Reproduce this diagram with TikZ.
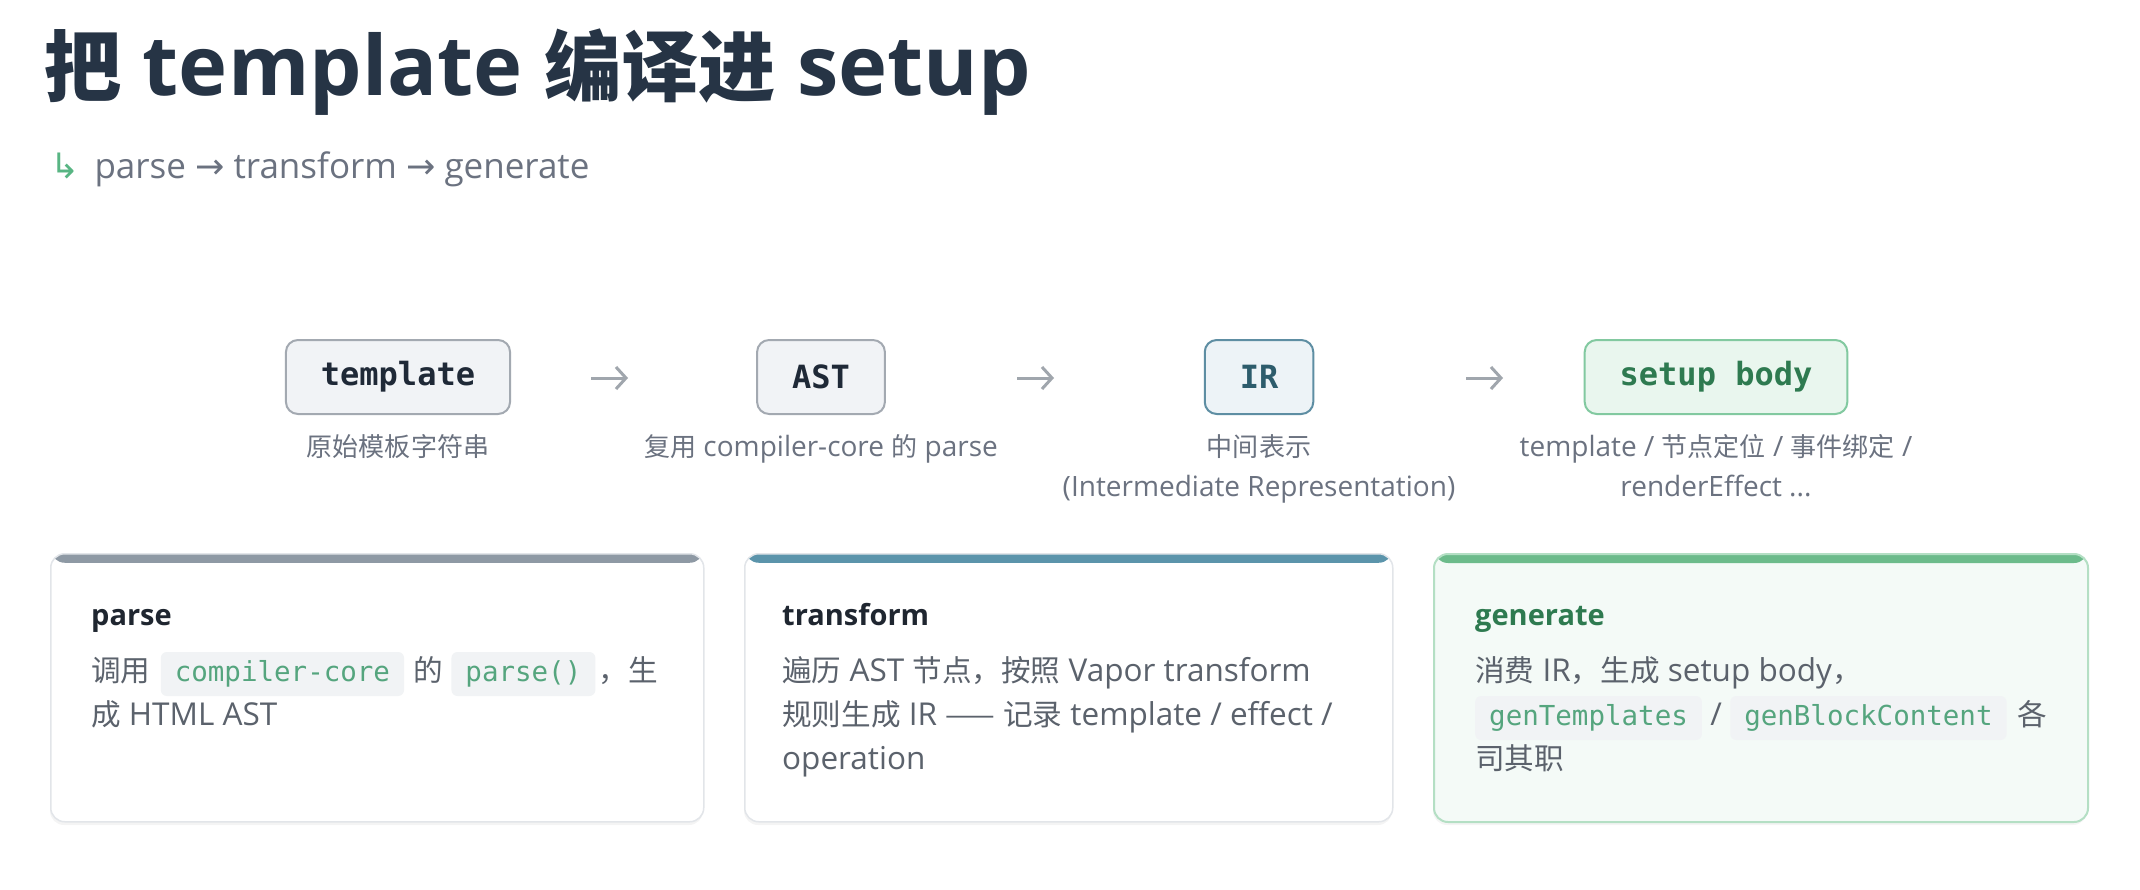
\documentclass[tikz,border=0pt]{standalone}
\usepackage{fontspec}
\setmainfont{Open Sans}
\newfontfamily\cjk[Scale=0.93]{Noto Sans CJK SC}
\newfontfamily\cjkb[Scale=0.94]{Noto Sans CJK SC}
\newfontfamily\monof{DejaVu Sans Mono}
\newfontfamily\symf{DejaVu Sans}
\usetikzlibrary{arrows.meta}
\definecolor{titlecol}{HTML}{263445}
\definecolor{subgray}{HTML}{6B7280}
\definecolor{arrowgreen}{HTML}{58B583}
\definecolor{arrowgray}{HTML}{A0A6AD}
\definecolor{boxfill}{HTML}{F1F3F6}
\definecolor{boxdraw}{HTML}{A3A9B1}
\definecolor{boxtext}{HTML}{1F2937}
\definecolor{irfill}{HTML}{EDF3F7}
\definecolor{irdraw}{HTML}{5E8EA3}
\definecolor{irtext}{HTML}{2D5C6C}
\definecolor{sufill}{HTML}{E9F6EE}
\definecolor{sudraw}{HTML}{82C9A0}
\definecolor{sutext}{HTML}{2E7A50}
\definecolor{cardborder}{HTML}{E2E5E9}
\definecolor{barone}{HTML}{8E99A4}
\definecolor{bartwo}{HTML}{5B94AB}
\definecolor{barthree}{HTML}{6CBB8B}
\definecolor{cardthreefill}{HTML}{F4FAF7}
\definecolor{cardthreeborder}{HTML}{B4DFC4}
\definecolor{ctitlecol}{HTML}{1F2630}
\definecolor{bodygray}{HTML}{5B626C}
\definecolor{codegreen}{HTML}{55A57E}
\definecolor{codebg}{HTML}{F1F3F5}
\begin{document}
\begin{tikzpicture}[x=1pt,y=-1pt,
  titlest/.style={font=\fontsize{83}{90}\selectfont\bfseries, text=titlecol, inner sep=0, anchor=base west},
  subst/.style={font=\fontsize{35}{40}\selectfont, text=subgray, inner sep=0, anchor=base west},
  boxbase/.style={rounded corners=12, line width=2, minimum height=74, inner xsep=35, inner ysep=0,
    font=\monof\bfseries\fontsize{32}{36}\selectfont},
  boxgray/.style={boxbase, fill=boxfill, draw=boxdraw, text=boxtext},
  boxir/.style={boxbase, fill=irfill, draw=irdraw, text=irtext},
  boxsetup/.style={boxbase, fill=sufill, draw=sudraw, text=sutext},
  flowarr/.style={draw=arrowgray, line width=3, -{Straight Barb[length=10pt,width=22pt,line width=3pt]}},
  capst/.style={font=\fontsize{28}{34}\selectfont, text=subgray, inner sep=0, anchor=base},
  cardbase/.style={rounded corners=14, line width=1.5, minimum width=#1, minimum height=268, anchor=north west, inner sep=0},
  shadowst/.style={rounded corners=14, fill=black, opacity=0.045},
  ctitle/.style={font=\fontsize{29}{34}\selectfont\bfseries, text=ctitlecol, inner sep=0, anchor=base west},
  body/.style={font=\fontsize{31.5}{36}\selectfont, text=bodygray, inner sep=0, anchor=base west},
  code/.style={font=\monof\fontsize{27.5}{32}\selectfont, text=codegreen, fill=codebg, rounded corners=6,
    inner xsep=14, inner ysep=9, text height=20, text depth=6, anchor=base west},
]
\useasboundingbox (0,0) rectangle (2140,890);
\fill[white] (0,0) rectangle (2140,890);

% title
\node[titlest] (title) at (44,96) {{\cjk 把} template {\cjk 编译进} setup};
\node[subst] (sub) at (50,179) {{\color{arrowgreen}\symf ↳}\hspace{15pt}parse {\symf →} transform {\symf →} generate};

% flow boxes
\node[boxgray] (tpl) at (398,377) {template};
\node[boxgray] (ast) at (821,377) {AST};
\node[boxir] (ir) at (1259,377) {IR};
\node[boxsetup] (su) at (1716,377) {setup body};

\coordinate (a1s) at (591,378); \coordinate (a1e) at (628,378);
\coordinate (a2s) at (1017,378); \coordinate (a2e) at (1054,378);
\coordinate (a3s) at (1466,378); \coordinate (a3e) at (1503,378);
\draw[flowarr] (a1s) -- (a1e);
\draw[flowarr] (a2s) -- (a2e);
\draw[flowarr] (a3s) -- (a3e);

% captions
\node[capst] (capTpl) at (398,456) {{\cjk 原始模板字符串}};
\node[capst] (capAst) at (821,456) {{\cjk 复用} compiler-core {\cjk 的} parse};
\node[capst] (capIrA) at (1259,456) {{\cjk 中间表示}};
\node[capst] (capIrB) at (1259,496) {(Intermediate Representation)};
\node[capst] (capSuA) at (1716,456) {template / {\cjk 节点定位} / {\cjk 事件绑定} /};
\node[capst] (capSuB) at (1716,496) {renderEffect ...};

% cards
\fill[shadowst] (50,556) rectangle (703,825);
\fill[shadowst] (744,556) rectangle (1392,825);
\fill[shadowst] (1433,556) rectangle (2087,825);
\node[cardbase=653, fill=white, draw=cardborder,
  path picture={\fill[barone] (path picture bounding box.north west) rectangle ([yshift=-9pt]path picture bounding box.north east);}]
  (card1) at (50,553) {};
\node[cardbase=648, fill=white, draw=cardborder,
  path picture={\fill[bartwo] (path picture bounding box.north west) rectangle ([yshift=-9pt]path picture bounding box.north east);}]
  (card2) at (744,553) {};
\node[cardbase=654, fill=cardthreefill, draw=cardthreeborder, line width=2,
  path picture={\fill[barthree] (path picture bounding box.north west) rectangle ([yshift=-9pt]path picture bounding box.north east);}]
  (card3) at (1433,553) {};

% card 1
\node[ctitle] (c1t) at (91,625) {parse};
\node[body] (c1a) at (91,681) {{\cjkb 调用}};
\node[code] (c1b) at ([xshift=10pt]c1a.base east) {compiler-core};
\node[body] (c1c) at ([xshift=9pt]c1b.base east) {{\cjkb 的}};
\node[code] (c1d) at ([xshift=8pt]c1c.base east) {parse()};
\node[body] (c1e) at ([xshift=3pt]c1d.base east) {{\cjkb ，生}};
\node[body] (c1f) at (91,725) {{\cjkb 成} HTML AST};

% card 2
\node[ctitle] (c2t) at (782,625) {transform};
\node[body] (c2a) at (782,681) {{\cjkb 遍历} AST {\cjkb 节点，按照} Vapor transform};
\node[body] (c2b) at (782,725) {{\cjkb 规则生成} IR {\cjkb ——} {\cjkb 记录} template / effect /};
\node[body] (c2c) at (782,769) {operation};

% card 3
\node[ctitle, text=sutext] (c3t) at (1475,625) {generate};
\node[body] (c3a) at (1475,681) {{\cjkb 消费} IR{\cjkb ，生成} setup body{\cjkb ，}};
\node[code] (c3b) at (1475,725) {genTemplates};
\node[body] (c3c) at ([xshift=8pt]c3b.base east) {/};
\node[code] (c3e) at ([xshift=8pt]c3c.base east) {genBlockContent};
\node[body] (c3f) at ([xshift=10pt]c3e.base east) {{\cjkb 各}};
\node[body] (c3g) at (1475,769) {{\cjkb 司其职}};
\end{tikzpicture}
\end{document}
